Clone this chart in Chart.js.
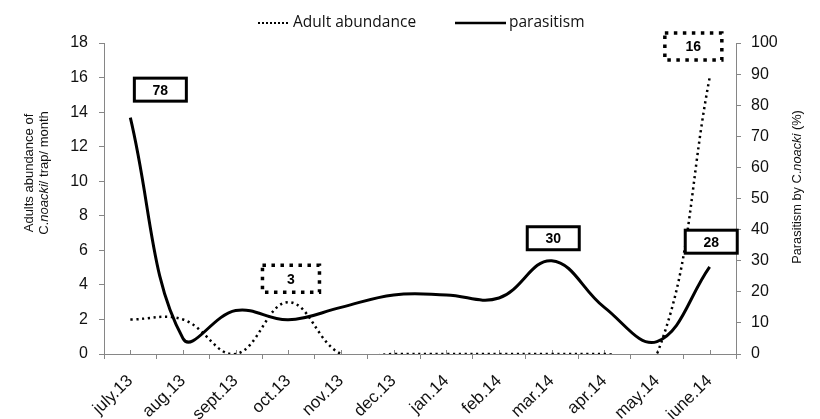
<!DOCTYPE html>
<html>
<head>
<meta charset="utf-8">
<script src="https://cdn.jsdelivr.net/npm/chart.js@4.4.1/dist/chart.umd.min.js"></script>
<style>
  html, body { margin: 0; padding: 0; background: #fff; }
</style>
</head>
<body>
<canvas id="chart" width="820" height="419"></canvas>
<script>
const months = ['july.13', 'aug.13', 'sept.13', 'oct.13', 'nov.13', 'dec.13',
                'jan.14', 'feb.14', 'mar.14', 'apr.14', 'may.14', 'june.14'];
const adultAbundance = [2, 2, 0, 3, 0, 0, 0, 0, 0, 0, 0, 16];
const parasitism = [76, 5, 14, 11, 15, 19, 19, 18, 30, 15, 4, 28];
const boxTexts = ['78', '3', '30', '28', '16'];
const boxDotted = [false, true, false, false, true];

// where the boxed labels sit, in (month index, left-axis value)
const boxAnchors = [[0.57, 15.3], [3.05, 4.35], [8.03, 6.7], [11.03, 6.5], [10.69, 17.8]];

const AXIS_GREY = '#868686';
const TICK_FONT = { family: '"Liberation Sans", Arial, sans-serif', size: 16 };

function drawRotatedParts(ctx, parts, x, y, size) {
    // parts: [text, italic] drawn along one line, centered, reading upward
    ctx.save();
    ctx.translate(x, y);
    ctx.rotate(-Math.PI / 2);
    ctx.textBaseline = 'middle';
    ctx.fillStyle = '#111';
    let total = 0;
    const widths = parts.map(p => {
        ctx.font = (p[1] ? 'italic ' : '') + size + 'px "Liberation Sans", Arial, sans-serif';
        const w = ctx.measureText(p[0]).width;
        total += w;
        return w;
    });
    let cx = -total / 2;
    parts.forEach((p, i) => {
        ctx.font = (p[1] ? 'italic ' : '') + size + 'px "Liberation Sans", Arial, sans-serif';
        ctx.textAlign = 'left';
        ctx.fillText(p[0], cx, 0);
        cx += widths[i];
    });
    ctx.restore();
}

const extras = {
    id: 'extras',
    beforeDatasetsDraw(chart) {
        const ctx = chart.ctx;
        const x = chart.scales.x;
        const bottom = chart.chartArea.bottom;
        // small upward ticks at the month centres
        ctx.save();
        ctx.strokeStyle = AXIS_GREY;
        ctx.lineWidth = 1;
        ctx.beginPath();
        for (let i = 0; i < months.length; i++) {
            const px = Math.round(x.getPixelForValue(i)) + 0.5;
            ctx.moveTo(px, bottom);
            ctx.lineTo(px, bottom - 4);
        }
        ctx.stroke();
        ctx.restore();
    },
    afterDatasetsDraw(chart) {
        const ctx = chart.ctx;
        const x = chart.scales.x;
        const y = chart.scales.y;
        boxTexts.forEach((txt, i) => {
            const cx = x.getPixelForValue(boxAnchors[i][0]);
            const cy = y.getPixelForValue(boxAnchors[i][1]);
            const dotted = boxDotted[i];
            const w = dotted ? 57 : 52;
            const h = dotted ? 27 : 23;
            ctx.save();
            ctx.fillStyle = '#fff';
            ctx.fillRect(cx - w / 2, cy - h / 2, w, h);
            ctx.strokeStyle = '#000';
            if (dotted) {
                ctx.lineWidth = 3.5;
                ctx.setLineDash([3.5, 5.5]);
            } else {
                ctx.lineWidth = 3;
            }
            ctx.strokeRect(cx - w / 2, cy - h / 2, w, h);
            ctx.setLineDash([]);
            ctx.fillStyle = '#000';
            ctx.font = 'bold 14px "Liberation Sans", Arial, sans-serif';
            ctx.textAlign = 'center';
            ctx.textBaseline = 'middle';
            ctx.fillText(txt, cx, cy + 1);
            ctx.restore();
        });

        // axis titles
        drawRotatedParts(ctx, [['Adults abundance of', false]], 29, 173, 13);
        drawRotatedParts(ctx, [['C.', false], ['noacki', true], ['/ trap/ month', false]], 44, 173, 13);
        drawRotatedParts(ctx, [['Parasitism by C.', false], ['noacki', true], [' (%)', false]], 797, 187, 12.8);

        // legend
        const ds = chart.data.datasets;
        const ly = 23;
        ctx.save();
        ctx.strokeStyle = '#000';
        ctx.lineWidth = 2;
        ctx.setLineDash([2, 2]);
        ctx.beginPath();
        ctx.moveTo(258, ly);
        ctx.lineTo(290, ly);
        ctx.stroke();
        ctx.setLineDash([]);
        ctx.lineWidth = 2.5;
        ctx.beginPath();
        ctx.moveTo(455, ly);
        ctx.lineTo(506, ly);
        ctx.stroke();
        ctx.fillStyle = '#111';
        ctx.font = '15.5px "Open Sans", sans-serif';
        ctx.textAlign = 'left';
        ctx.textBaseline = 'middle';
        ctx.fillText(ds[0].label, 293, ly);
        ctx.fillText(ds[1].label, 509, ly);
        ctx.restore();
    }
};

new Chart(document.getElementById('chart'), {
    type: 'line',
    data: {
        labels: months,
        datasets: [{
            label: 'Adult abundance',
            data: adultAbundance,
            yAxisID: 'y',
            borderColor: '#000',
            borderWidth: 2.5,
            borderDash: [2.2, 3.6],
            pointRadius: 0,
            tension: 0.4,
            capBezierPoints: false,
            fill: false
        }, {
            label: 'parasitism',
            data: parasitism,
            yAxisID: 'y1',
            borderColor: '#000',
            borderWidth: 3,
            pointRadius: 0,
            tension: 0.4,
            capBezierPoints: false,
            fill: false
        }]
    },
    options: {
        responsive: false,
        animation: false,
        devicePixelRatio: 1,
        layout: { padding: { top: 43, left: 0, right: 0, bottom: 0 } },
        plugins: {
            legend: { display: false },
            tooltip: { enabled: false }
        },
        scales: {
            x: {
                offset: true,
                grid: { offset: true, drawOnChartArea: false, tickLength: 5, color: AXIS_GREY },
                border: { color: AXIS_GREY },
                ticks: {
                    font: { family: '"Liberation Sans", Arial, sans-serif', size: 17 },
                    color: '#111',
                    minRotation: 44,
                    maxRotation: 44,
                    autoSkip: false,
                    padding: 12
                },
                afterFit(scale) { scale.height = 65; }
            },
            y: {
                position: 'left',
                min: 0,
                max: 18,
                ticks: { stepSize: 2, font: TICK_FONT, color: '#111', padding: 11 },
                grid: { drawOnChartArea: false, tickLength: 5, color: AXIS_GREY },
                border: { color: AXIS_GREY },
                afterFit(scale) { scale.width = 104; }
            },
            y1: {
                position: 'right',
                min: 0,
                max: 100,
                ticks: { stepSize: 10, font: TICK_FONT, color: '#111', padding: 10 },
                grid: { drawOnChartArea: false, tickLength: 5, color: AXIS_GREY },
                border: { color: AXIS_GREY },
                afterFit(scale) { scale.width = 84; }
            }
        }
    },
    plugins: [extras]
});
</script>
</body>
</html>
